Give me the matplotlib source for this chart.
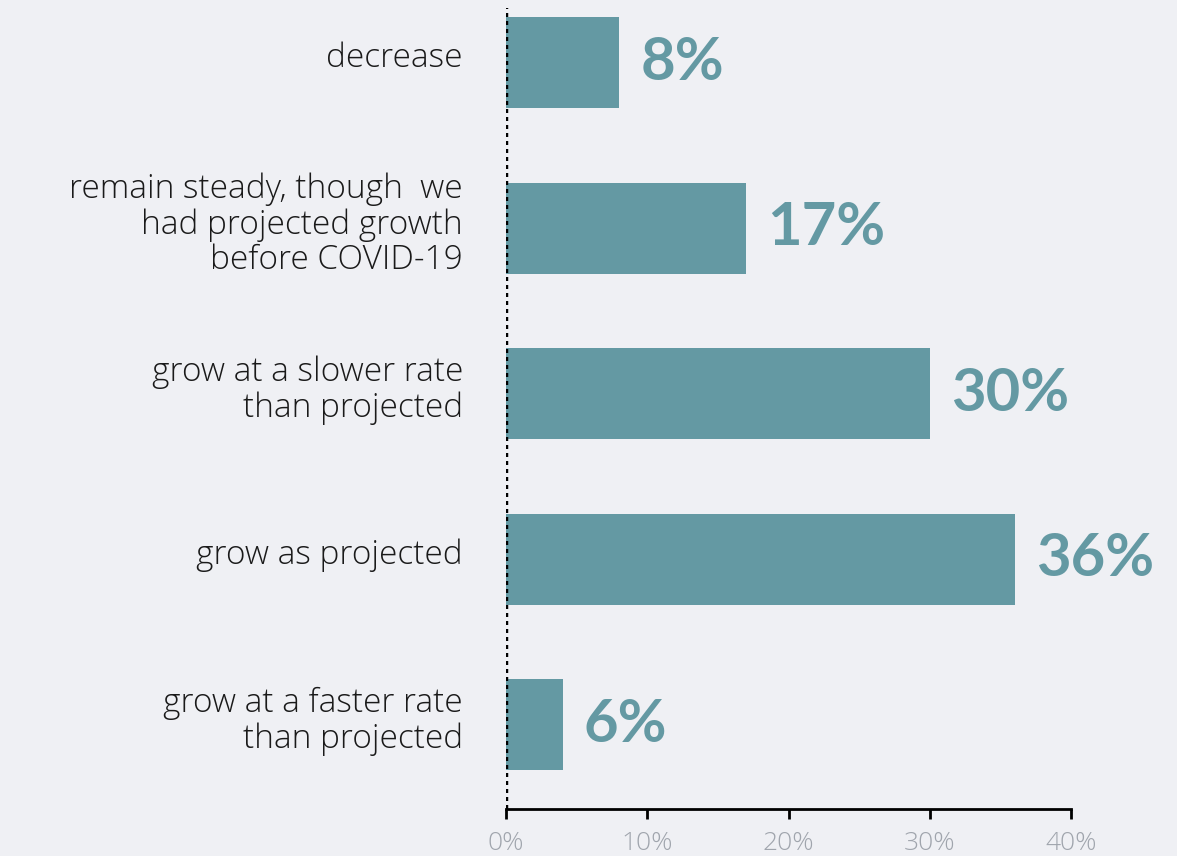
import matplotlib
matplotlib.use("Agg")
import matplotlib.pyplot as plt
import matplotlib.transforms as mtransforms

categories = ["decrease",
              "remain steady, though  we\nhad projected growth\nbefore COVID-19",
              "grow at a slower rate\nthan projected",
              "grow as projected",
              "grow at a faster rate\nthan projected"]
bar_values = [8, 17, 30, 36, 4]
value_labels = ["8%", "17%", "30%", "36%", "6%"]
xticks = [0, 10, 20, 30, 40]
xtick_labels = ["0%", "10%", "20%", "30%", "40%"]

bg = "#eff0f4"
bar_color = "#6499a3"

fig = plt.figure(figsize=(11.77, 8.56), dpi=100, facecolor=bg)
ax = fig.add_axes([506/1177, 1-809/856, 565/1177, (809-8)/856])
ax.set_facecolor(bg)

pos = list(range(len(categories)))
ax.barh(pos, bar_values, height=0.55, color=bar_color, zorder=2)
ax.set_ylim(4.51, -0.33)
ax.set_xlim(0, 40)

for p, v, t in zip(pos, bar_values, value_labels):
    ax.text(v + 1.5, p, t, va="center", ha="left", color=bar_color,
            fontsize=43, fontweight="bold", family="Lato")

ax.set_yticks(pos)
ax.set_yticklabels(categories, fontsize=24, family="Open Sans", fontweight="light",
                   color="#1a1a1a", linespacing=1.08)
ax.tick_params(axis="y", length=0, pad=31)
shift = mtransforms.ScaledTranslation(0, 6/72, fig.dpi_scale_trans)
for lbl in ax.get_yticklabels():
    lbl.set_transform(lbl.get_transform() + shift)

ax.set_xticks(xticks)
ax.set_xticklabels(xtick_labels, fontsize=19, family="Open Sans", fontweight="light",
                   color="#a0a5ad")
ax.tick_params(axis="x", length=7, width=2, color="black", pad=9)

for s in ["top", "right", "left"]:
    ax.spines[s].set_visible(False)
ax.spines["bottom"].set_linewidth(2)
ax.axvline(0, color="black", linewidth=3.2, linestyle=(0, (0.9, 0.9)), zorder=3)

fig.savefig("out.png", dpi=100, facecolor=bg)
